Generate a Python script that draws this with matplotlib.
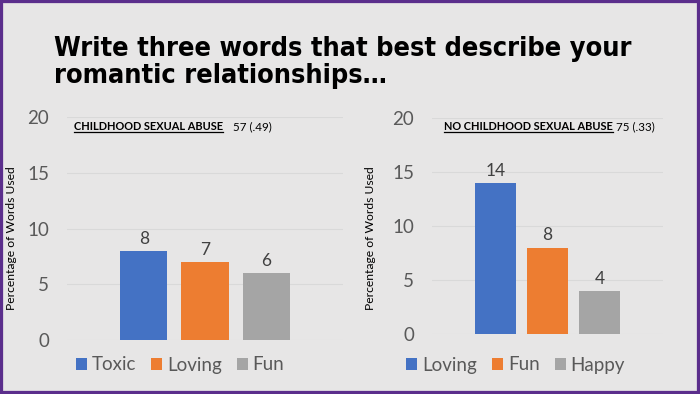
import matplotlib
matplotlib.use("Agg")
import matplotlib.pyplot as plt
from matplotlib.patches import Rectangle
from matplotlib.lines import Line2D

# ---- data ----
title_line1 = "Write three words that best describe your"
title_line2 = "romantic relationships…"
ylabel = "Percentage of Words Used"
yticks = [0, 5, 10, 15, 20]

left_group = "CHILDHOOD SEXUAL ABUSE"
left_n = "57 (.49)"
left_words = ["Toxic", "Loving", "Fun"]
left_values = [8, 7, 6]

right_group = "NO CHILDHOOD SEXUAL ABUSE"
right_n = "75 (.33)"
right_words = ["Loving", "Fun", "Happy"]
right_values = [14, 8, 4]

colors = ["#4472C4", "#ED7D31", "#A5A5A5"]
BG = "#E7E6E6"
W, H = 700, 394

plt.rcParams['font.family'] = ['Lato', 'DejaVu Sans']

fig = plt.figure(figsize=(W / 100, H / 100), dpi=100, facecolor=BG)

def fx(px):
    return px / W

def fy(py):
    return 1 - py / H

# border
fig.patches.append(Rectangle((0, 0), 1, 1, transform=fig.transFigure,
                             fill=False, edgecolor="#5B2E8C", lw=4.5, zorder=10))

renderer = fig.canvas.get_renderer()

def fit_width(t, target_px):
    for _ in range(4):
        bb = t.get_window_extent(renderer=renderer)
        t.set_fontsize(t.get_fontsize() * target_px / bb.width)
    return t.get_window_extent(renderer=renderer)

# title
title_font = dict(fontweight='bold', family=['DejaVu Sans'], fontstretch='condensed')
t1 = fig.text(fx(54), fy(56), title_line1, fontsize=23, **title_font,
              ha='left', va='baseline', color='black')
fit_width(t1, 576)
t2 = fig.text(fx(54), fy(83), title_line2, fontsize=t1.get_fontsize(), **title_font,
              ha='left', va='baseline', color='black')

def make_panel(rect, words, values, xlim, group, n, grp_x, grp_w, n_x, ylab_x, leg_center):
    ax = fig.add_axes(rect)
    ax.set_facecolor(BG)
    x = list(range(len(words)))
    bars = ax.bar(x, values, width=0.77, color=colors, label=words, zorder=3)
    ax.bar_label(bars, labels=[str(v) for v in values], padding=3,
                 fontsize=12.5, color="#404040")
    ax.set_ylim(0, 20)
    ax.set_xlim(*xlim)
    ax.set_yticks(yticks)
    ax.set_xticks([])
    ax.tick_params(axis='y', length=0, pad=13, labelsize=13.5, labelcolor="#595959")
    for s in ax.spines.values():
        s.set_visible(False)
    ax.yaxis.grid(True, color="#D9D9D9", lw=0.8, zorder=0)
    ax.set_ylabel(ylabel, fontsize=8.7, color="black")
    ax.yaxis.set_label_coords(fx(ylab_x), fy(238.5), transform=fig.transFigure)
    ax.yaxis.label.set_ha('center')
    ax.yaxis.label.set_va('center')
    # group label
    gt = fig.text(fx(grp_x), fy(130), group, fontsize=8, fontweight='bold',
                  ha='left', va='baseline', color='black')
    bb = fit_width(gt, grp_w)
    x0, x1 = bb.x0 / W, bb.x1 / W
    fig.add_artist(Line2D([x0, x1], [fy(132.5), fy(132.5)], transform=fig.transFigure,
                          color='black', lw=0.9))
    fig.text(fx(n_x), fy(130), n, fontsize=gt.get_fontsize() * 1.05, ha='left',
             va='baseline', color='black')
    fig.legend(handles=bars.patches, labels=words, loc='center',
               bbox_to_anchor=(fx(leg_center), fy(365)), ncol=3, frameon=False,
               fontsize=13.5, handlelength=0.6, handleheight=0.6,
               handletextpad=0.25, columnspacing=0.8, labelcolor="#595959")
    return ax

make_panel([fx(67), fy(340), fx(343) - fx(67), fy(117) - fy(340)],
           left_words, left_values, (-1.26, 3.26), left_group, left_n,
           74, 150, 233, 12, 180)
make_panel([fx(432), fy(334), fx(663) - fx(432), fy(118) - fy(334)],
           right_words, right_values, (-1.22, 3.22), right_group, right_n,
           444, 169, 616, 371, 515.5)

fig.savefig("out.png", dpi=100, facecolor=BG)
